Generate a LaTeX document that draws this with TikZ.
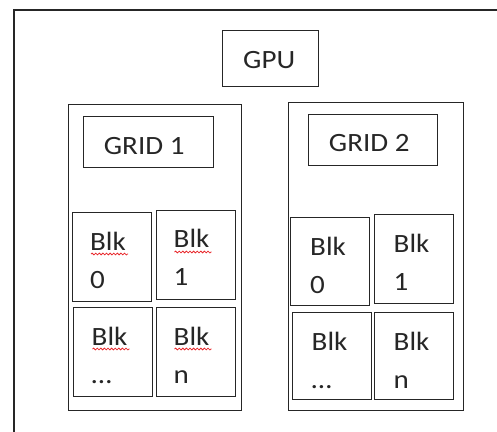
\documentclass[tikz,border=0pt]{standalone}
\usepackage{fontspec}
\setmainfont[FakeStretch=1.1]{Carlito}
\usetikzlibrary{calc,decorations.pathmorphing}
\definecolor{ink}{HTML}{262626}
\definecolor{spell}{HTML}{E8262A}
\newcommand\labelfont{\fontsize{26.4}{38}\selectfont}
\begin{document}
\begin{tikzpicture}[x=1pt,y=-1pt,
  frame/.style={draw=ink,line width=2pt},
  cell/.style={draw=ink,line width=1.4pt,inner sep=0pt,anchor=north west},
  title/.style={cell,minimum width=#1,minimum height=51},
  blk/.style={cell,minimum width=79,minimum height=89},
  txt/.style={font=\labelfont,text=ink,inner sep=0pt},
  lbl/.style={txt,align=left,anchor=base west},
  squig/.style={draw=spell,line width=0.8pt,
    decorate,decoration={snake,amplitude=0.9pt,segment length=3.6pt}}]
\useasboundingbox (0,0) rectangle (497,431);

% outer device frame (runs off the page at right and bottom)
\coordinate (fb) at (13.5,440);
\coordinate (fc) at (13.5,10);
\coordinate (fr) at (505,10);
\draw[frame] (fb) -- (fc) -- (fr);

% GPU
\node[cell,minimum width=96,minimum height=56] (gpu) at (222,30) {};
\node[txt] (gput) at ($(gpu.center)+(-1.5,1.5)$) {GPU};

% grid containers
\node[cell,minimum width=173,minimum height=306] (g1) at (68,104) {};
\node[cell,minimum width=175,minimum height=308] (g2) at (288,102) {};

% grid titles
\node[title=130] (g1t) at (83,116) {};
\node[txt] (g1tt) at ($(g1t.center)+(-4.5,3.5)$) {GRID 1};
\node[title=129] (g2t) at (308,114) {};
\node[txt] (g2tt) at ($(g2t.center)+(-4,3)$) {GRID 2};

% blocks of grid 1
\node[blk] (a0) at (72,212) {};
\node[blk] (a1) at (156,210) {};
\node[blk] (a2) at (73,307) {};
\node[blk] (a3) at (156,307) {};
% blocks of grid 2
\node[blk,minimum height=88] (b0) at (290,217) {};
\node[blk] (b1) at (374,214) {};
\node[blk,minimum height=87] (b2) at (292,312) {};
\node[blk,minimum height=87] (b3) at (374,312) {};

% block labels (base anchor sits on the second line)
\node[lbl] (a0t) at ($(a0.north west)+(18,76)$) {Blk\\0};
\node[lbl] (a1t) at ($(a1.north west)+(17.5,75)$) {Blk\\1};
\node[lbl] (a2t) at ($(a2.north west)+(18.5,76)$) {Blk\\…};
\node[lbl] (a3t) at ($(a3.north west)+(17.5,76)$) {Blk\\n};
\node[lbl] (b0t) at ($(b0.north west)+(20,76)$) {Blk\\0};
\node[lbl] (b1t) at ($(b1.north west)+(19.5,76)$) {Blk\\1};
\node[lbl] (b2t) at ($(b2.north west)+(19.5,76)$) {Blk\\…};
\node[lbl] (b3t) at ($(b3.north west)+(19.5,76)$) {Blk\\n};

% spell-check underlines in grid 1
\foreach \c/\dx in {a0/19,a1/18.5,a2/19.5,a3/18.5}{
  \coordinate (\c s) at ($(\c.north west)+(\dx,42)$);
  \coordinate (\c e) at ($(\c s)+(37,0)$);
  \draw[squig] (\c s) -- (\c e);
}
\end{tikzpicture}
\end{document}
